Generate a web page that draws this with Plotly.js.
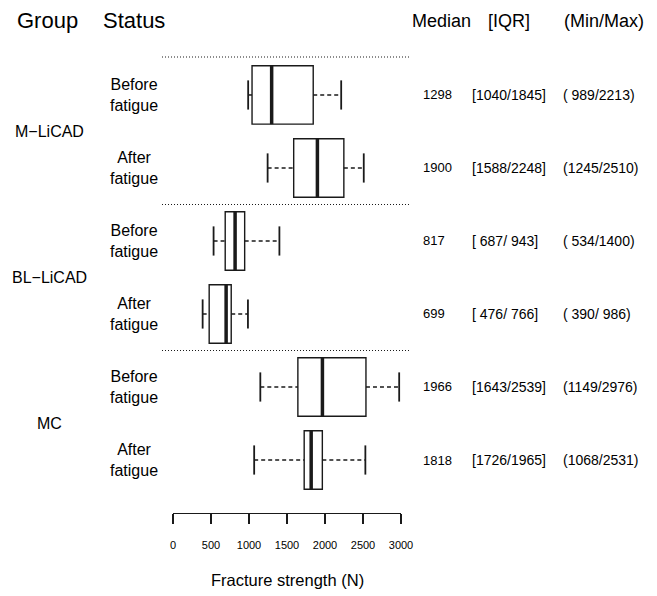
<!DOCTYPE html>
<html>
<head>
<meta charset="utf-8">
<script src="https://cdn.plot.ly/plotly-3.0.1.min.js"></script>
<style>html,body{margin:0;padding:0;background:#fff;}#chart{width:657px;height:596px;}</style>
</head>
<body>
<div id="chart"></div>
<script>
const groups = ['M\u2212LiCAD', 'BL\u2212LiCAD', 'MC'];
const statuses = ['Before<br>fatigue', 'After<br>fatigue', 'Before<br>fatigue', 'After<br>fatigue', 'Before<br>fatigue', 'After<br>fatigue'];
const rowPos = [6, 5, 4, 3, 2, 1];
const medians = [1298, 1900, 817, 699, 1966, 1818];
const q1s = [1040, 1588, 687, 476, 1643, 1726];
const q3s = [1845, 2248, 943, 766, 2539, 1965];
const mins = [989, 1245, 534, 390, 1149, 1068];
const maxs = [2213, 2510, 1400, 986, 2976, 2531];
const tickVals = [0, 500, 1000, 1500, 2000, 2500, 3000];
const tickText = ['0', '500', '1000', '1500', '2000', '2500', '3000'];

const FONT = 'Liberation Sans, Arial, sans-serif';
const INK = '#1a1a1a';
const BOXHALF = 0.4, CAPHALF = 0.2;

const wx = [], wy = [];
const cx = [], cy = [];
const mx = [], my = [];
rowPos.forEach((p, i) => {
  wx.push(mins[i], q1s[i], null, q3s[i], maxs[i], null);
  wy.push(p, p, null, p, p, null);
  cx.push(mins[i], mins[i], null, maxs[i], maxs[i], null);
  cy.push(p - CAPHALF, p + CAPHALF, null, p - CAPHALF, p + CAPHALF, null);
  mx.push(medians[i], medians[i], null);
  my.push(p - BOXHALF, p + BOXHALF, null);
});

const traces = [
  {type: 'scatter', mode: 'lines', x: wx, y: wy, line: {color: INK, width: 1.5, dash: '4px,3px'}, hoverinfo: 'skip', showlegend: false},
  {type: 'scatter', mode: 'lines', x: cx, y: cy, line: {color: INK, width: 1.8}, hoverinfo: 'skip', showlegend: false},
  {type: 'box', orientation: 'h', y: rowPos, q1: q1s, median: medians, q3: q3s,
   lowerfence: q1s, upperfence: q3s, width: 2 * BOXHALF, boxpoints: false,
   fillcolor: 'rgba(255,255,255,1)', line: {color: INK, width: 1.4}, hoverinfo: 'skip', showlegend: false},
  {type: 'scatter', mode: 'lines', x: mx, y: my, line: {color: INK, width: 3.5}, hoverinfo: 'skip', showlegend: false}
];

const L = 173, R = 401, T = 40, B = 513;
const W = R - L, H = B - T;
const px2x = v => (v - L) / W;
const py2y = v => 1 - (v - T) / H;

const pad4 = n => String(n).padStart(4, ' ');
const annotations = [];
const header = (text, xc, size) => annotations.push({xref: 'paper', yref: 'paper', x: px2x(xc), y: py2y(21),
  text: text, showarrow: false, xanchor: 'center', yanchor: 'middle', font: {family: FONT, size: size, color: '#000'}});
header('Group', 48, 22);
header('Status', 134, 22);
header('Median', 441, 18);
header('[IQR]', 508.5, 18);
header('(Min/Max)', 604, 18);

groups.forEach((g, k) => {
  const yMid = (rowPos[2 * k] + rowPos[2 * k + 1]) / 2;
  annotations.push({xref: 'paper', yref: 'y', x: px2x(49), y: yMid, text: g, showarrow: false,
    xanchor: 'center', yanchor: 'middle', font: {family: FONT, size: 16, color: '#000'}});
});
rowPos.forEach((p, i) => {
  annotations.push({xref: 'paper', yref: 'y', x: px2x(134), y: p, text: statuses[i], showarrow: false,
    xanchor: 'center', yanchor: 'middle', font: {family: FONT, size: 16, color: '#000'}});
  annotations.push({xref: 'paper', yref: 'y', x: px2x(421), y: p, text: String(medians[i]), showarrow: false,
    xanchor: 'left', yanchor: 'middle', font: {family: FONT, size: 13, color: '#000'}});
  annotations.push({xref: 'paper', yref: 'y', x: px2x(470), y: p, text: '[' + pad4(q1s[i]) + '/' + pad4(q3s[i]) + ']', showarrow: false,
    xanchor: 'left', yanchor: 'middle', font: {family: FONT, size: 14, color: '#000'}});
  annotations.push({xref: 'paper', yref: 'y', x: px2x(561), y: p, text: '(' + pad4(mins[i]) + '/' + pad4(maxs[i]) + ')', showarrow: false,
    xanchor: 'left', yanchor: 'middle', font: {family: FONT, size: 14, color: '#000'}});
});
annotations.push({xref: 'paper', yref: 'paper', x: 0.5, y: py2y(580), text: 'Fracture strength (N)', showarrow: false,
  xanchor: 'center', yanchor: 'middle', font: {family: FONT, size: 16.5, color: '#000'}});

const sepY = [6.52, 4.5, 2.5];
const shapes = sepY.map(y => ({type: 'line', xref: 'paper', yref: 'y', x0: px2x(162), x1: px2x(409), y0: y, y1: y,
  line: {color: INK, width: 1.2, dash: '1px,2px'}}));

const layout = {
  width: 657, height: 596,
  margin: {l: L, r: 657 - R, t: T, b: 596 - B, pad: 0},
  paper_bgcolor: '#fff', plot_bgcolor: '#fff',
  showlegend: false,
  font: {family: FONT, color: '#000'},
  xaxis: {range: [0, 3000], tickvals: tickVals, ticktext: tickText, showline: true, linecolor: INK, linewidth: 1.4,
    ticks: 'outside', ticklen: 10, tickwidth: 1.4, tickcolor: INK, showgrid: false, zeroline: false,
    ticklabelstandoff: 11, tickfont: {family: FONT, size: 11, color: '#000000'}, fixedrange: true},
  yaxis: {range: [0.274, 6.753], visible: false, showgrid: false, zeroline: false, fixedrange: true},
  annotations: annotations,
  shapes: shapes
};

Plotly.newPlot('chart', traces, layout, {displayModeBar: false, staticPlot: true});
</script>
</body>
</html>
